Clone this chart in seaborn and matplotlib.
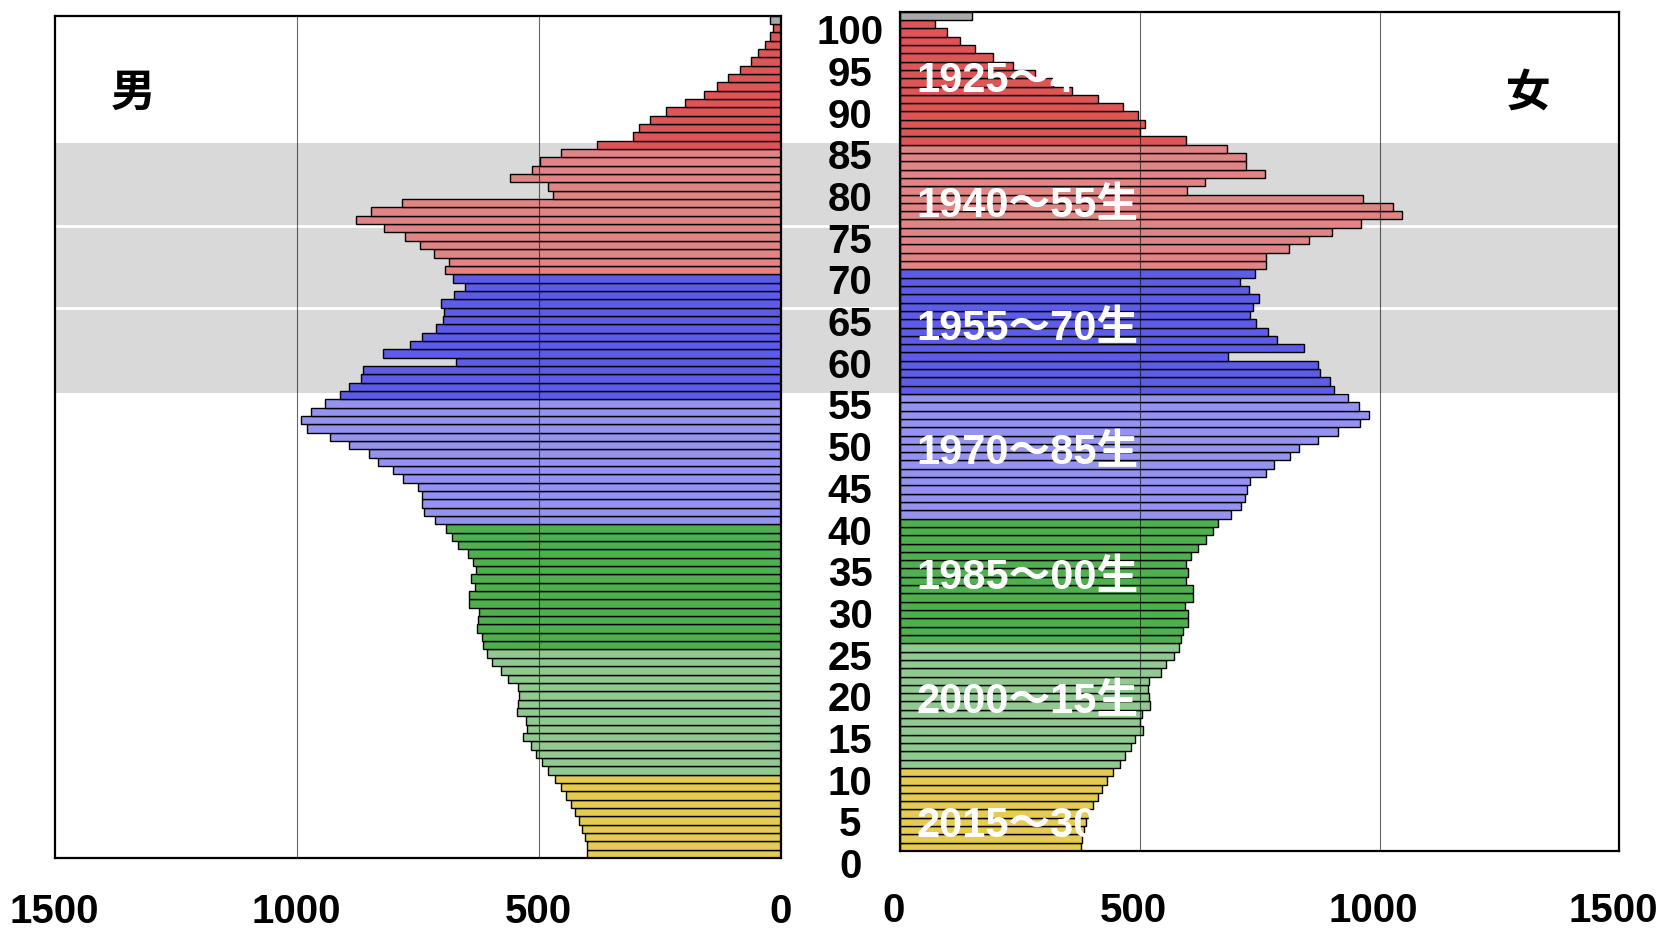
import numpy as np
import pandas as pd
import matplotlib
matplotlib.use('Agg')
import matplotlib.pyplot as plt
import seaborn as sns
from matplotlib.patches import Rectangle
from matplotlib.lines import Line2D
from matplotlib.transforms import blended_transform_factory, ScaledTranslation

# 年齢 0..100 の人口（千人、グラフから読み取り）
ages = list(range(0, 101))

male = [400, 401, 405, 410, 417, 424, 433, 443, 454, 467,
        481, 493, 506, 515, 532, 524, 527, 544, 543, 541,
        542, 564, 578, 596, 607, 616, 617, 628, 626, 623,
        643, 645, 632, 639, 629, 635, 647, 666, 680, 691,
        715, 736, 742, 742, 750, 781, 800, 831, 850, 892,
        931, 978, 992, 971, 941, 910, 891, 868, 863, 670,
        822, 766, 741, 712, 697, 696, 701, 676, 652, 678,
        693, 686, 716, 745, 777, 819, 877, 846, 782, 470,
        480, 559, 513, 497, 453, 380, 305, 293, 270, 238,
        197, 158, 132, 108, 84, 62, 47, 33, 23, 16,
        23]

female = [378, 380, 383, 387, 395, 403, 412, 421, 432, 444,
          458, 470, 481, 490, 507, 500, 504, 521, 520, 518,
          520, 544, 554, 572, 581, 587, 591, 601, 600, 595,
          611, 611, 596, 601, 596, 606, 621, 638, 652, 663,
          691, 711, 720, 724, 730, 763, 780, 814, 833, 872,
          913, 960, 978, 957, 934, 906, 896, 876, 872, 684,
          843, 787, 768, 743, 729, 736, 748, 728, 708, 741,
          764, 763, 812, 852, 900, 962, 1046, 1028, 966, 598,
          636, 761, 721, 722, 681, 597, 500, 510, 496, 465,
          413, 358, 320, 281, 236, 194, 157, 125, 97, 73,
          150]

# 世代区分
gen_names = ['2015～30生', '2000～15生', '1985～00生', '1970～85生',
             '1955～70生', '1940～55生', '1925～40生', '～1925生']
gen_start = [0, 10, 25, 40, 55, 70, 85, 100]
gen_colors = ['#FFDA3A', '#86D486', '#40C040', '#4545FF',
              '#8585FF', '#F07474', '#F43E3E', '#A8A8A8']
gen_colors = ['#FFDA3A', '#86D486', '#40C040', '#8585FF',
              '#4545FF', '#F07474', '#F43E3E', '#A8A8A8']
label_ages = [2.55, 17.45, 32.35, 47.35, 62.25, 77.15, 92.15]

age_ticks = list(range(0, 101, 5))
x_ticks = [0, 500, 1000, 1500]

gen = pd.cut(ages, bins=gen_start + [200], right=False, labels=gen_names)
df = pd.DataFrame({'age': ages, 'male': male, 'female': female, 'gen': gen})
palette = dict(zip(gen_names, gen_colors))

num_font = ['Liberation Sans', 'Noto Sans CJK JP', 'DejaVu Sans']
plt.rcParams['font.family'] = num_font

fig = plt.figure(figsize=(16.64, 9.32), dpi=100)
ax_l = fig.add_axes([0.03287, 0.0794, 0.43630, 0.9038])
ax_r = fig.add_axes([0.54087, 0.0869, 0.43227, 0.9005])
ax_m = fig.add_axes([0.4692, 0.0794, 0.0717, 0.9038])

for ax in (ax_l, ax_r, ax_m):
    ax.set_facecolor('none')
    ax.set_ylim(-0.5, 100.5)

# 背景の網掛け帯（55～85歳）
trans = blended_transform_factory(fig.transFigure, ax_l.transData)
fig.add_artist(Rectangle((0.03287, 55.2), 0.9731 - 0.03287, 30.0,
                         transform=trans, facecolor='#D9D9D9',
                         edgecolor='none', zorder=-2))
for yy in [65.4, 75.3]:
    fig.add_artist(Line2D([0.03287, 0.9731], [yy, yy], transform=trans,
                          color='white', lw=2, zorder=-1))

bar_kw = dict(y='age', hue='gen', palette=palette, orient='h',
              native_scale=True, dodge=False, width=1.0,
              edgecolor='black', linewidth=1.0, errorbar=None, legend=False)
sns.barplot(data=df, x='male', ax=ax_l, **bar_kw)
sns.barplot(data=df, x='female', ax=ax_r, **bar_kw)

ax_l.set_xlim(1500, 0)
ax_r.set_xlim(0, 1500)

for ax, pad in ((ax_l, 25), (ax_r, 29.5)):
    ax.set_ylim(-0.5, 100.5)
    ax.set_xticks(x_ticks)
    ax.set_xticklabels([str(v) for v in x_ticks])
    ax.set_yticks([])
    ax.set_xlabel('')
    ax.set_ylabel('')
    ax.tick_params(axis='x', length=0, pad=pad, labelsize=29)
    for lbl in ax.get_xticklabels():
        lbl.set_fontweight('bold')
    for sp in ax.spines.values():
        sp.set_linewidth(1.6)
        sp.set_color('black')
    for v in [500, 1000]:
        ax.axvline(v, color='black', lw=0.8, alpha=0.6, zorder=3)

# 右側の目盛りラベルは少し左寄せ
shift = ScaledTranslation(-0.065, 0, fig.dpi_scale_trans)
for lbl in ax_r.get_xticklabels():
    lbl.set_transform(lbl.get_transform() + shift)

# 中央の年齢ラベル
ax_m.axis('off')
tm = blended_transform_factory(ax_m.transAxes, ax_m.transData)
for a in age_ticks:
    ax_m.text(0.581, a - 1.6, str(a), transform=tm, ha='center', va='center',
              fontsize=29, fontweight='bold', family=num_font)

# 世代ラベル（白文字）
for name, ya in zip(gen_names[:-1], label_ages):
    ax_r.text(35, ya, name, ha='left', va='center', color='white',
              fontsize=30, fontweight='bold', family=num_font, zorder=5)

fig.text(0.0799, 0.9002, '男', ha='center', va='center', fontsize=32,
         fontweight='bold', family=['Noto Sans CJK JP'])
fig.text(0.9183, 0.9002, '女', ha='center', va='center', fontsize=32,
         fontweight='bold', family=['Noto Sans CJK JP'])

fig.savefig('out.png', dpi=100)
